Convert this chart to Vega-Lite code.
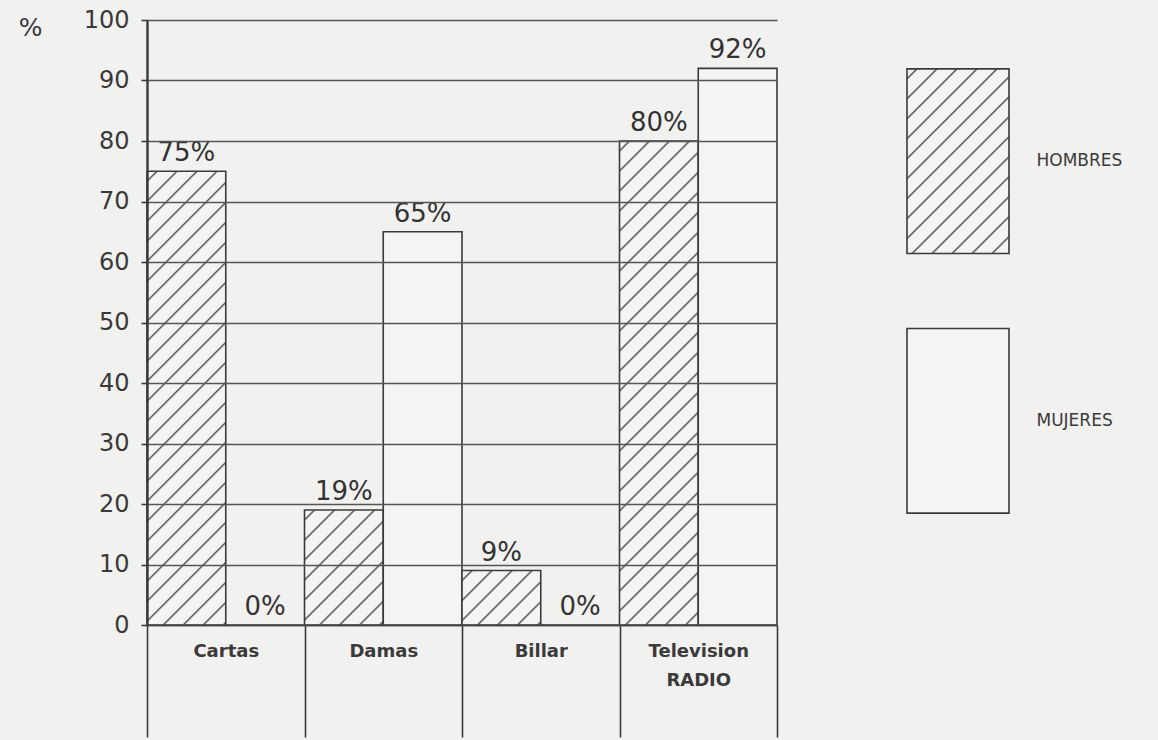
{
  "$schema": "https://vega.github.io/schema/vega-lite/v6.json",
  "background": "#f1f1ef",
  "padding": {"left": 18, "top": 8, "right": 37, "bottom": 2},
  "config": {
    "view": {"stroke": null},
    "font": "DejaVu Sans",
    "concat": {"spacing": 128}
  },
  "datasets": {
    "juegos": [
      {"juego": "Cartas", "sexo": "HOMBRES", "porcentaje": 75, "etiqueta": "75%"},
      {"juego": "Cartas", "sexo": "MUJERES", "porcentaje": 0, "etiqueta": "0%"},
      {"juego": "Damas", "sexo": "HOMBRES", "porcentaje": 19, "etiqueta": "19%"},
      {"juego": "Damas", "sexo": "MUJERES", "porcentaje": 65, "etiqueta": "65%"},
      {"juego": "Billar", "sexo": "HOMBRES", "porcentaje": 9, "etiqueta": "9%"},
      {"juego": "Billar", "sexo": "MUJERES", "porcentaje": 0, "etiqueta": "0%"},
      {"juego": "Television", "sexo": "HOMBRES", "porcentaje": 80, "etiqueta": "80%"},
      {"juego": "Television", "sexo": "MUJERES", "porcentaje": 92, "etiqueta": "92%"}
    ],
    "leyenda": [
      {"sexo": "HOMBRES"},
      {"sexo": "MUJERES"}
    ]
  },
  "hconcat": [
    {
      "width": 630,
      "height": 605,
      "data": {"name": "juegos"},
      "encoding": {
        "x": {
          "field": "juego", "type": "nominal",
          "sort": ["Cartas", "Damas", "Billar", "Television"],
          "scale": {"paddingInner": 0, "paddingOuter": 0},
          "axis": {
            "title": null,
            "labelAngle": 0,
            "domain": true, "domainColor": "#444", "domainWidth": 1.6,
            "ticks": true, "tickSize": 112, "tickColor": "#3a3a3a", "tickWidth": 1.6, "tickBand": "extent",
            "bandPosition": 1,
            "labelPadding": -95,
            "labelBaseline": "top",
            "labelFontSize": 18, "labelFontWeight": "bold", "labelColor": "#3a3a3a",
            "labelLineHeight": 29,
            "labelExpr": "datum.value == 'Television' ? ['Television', 'RADIO'] : datum.value",
            "zindex": 1
          }
        },
        "xOffset": {
          "field": "sexo", "type": "nominal",
          "sort": ["HOMBRES", "MUJERES"],
          "scale": {"paddingInner": 0, "paddingOuter": 0}
        },
        "y": {
          "field": "porcentaje", "type": "quantitative",
          "scale": {"domain": [0, 100], "nice": false},
          "axis": {
            "values": [0, 10, 20, 30, 40, 50, 60, 70, 80, 90, 100],
            "title": "%",
            "titleAngle": 0, "titleX": -117, "titleY": 7,
            "titleAlign": "center", "titleBaseline": "middle",
            "titleFontSize": 25, "titleFontWeight": "normal", "titleColor": "#3a3a3a",
            "domain": true, "domainColor": "#3a3a3a", "domainWidth": 2.4,
            "ticks": true, "tickSize": 6, "tickColor": "#3a3a3a", "tickWidth": 1.6,
            "grid": true, "gridColor": "#555", "gridWidth": 1.4, "gridOpacity": 1,
            "labelPadding": 12, "labelFontSize": 24, "labelColor": "#3a3a3a",
            "zindex": 1
          }
        }
      },
      "layer": [
        {
          "mark": {"type": "bar", "stroke": "#3a3a3a", "strokeWidth": 1.6},
          "encoding": {
            "fill": {
              "condition": [
                {"test": "datum.juego === 'Cartas' && datum.sexo === 'HOMBRES'",
                 "value": {"gradient": "linear", "x1": 0, "y1": 0, "x2": 0.3713035, "y2": 2.139416, "stops": [
{"offset":0.008,"color":"#f4f4f2"},{"offset":0.010,"color":"#4a4a4a"},{"offset":0.012,"color":"#f4f4f2"},
{"offset":0.028,"color":"#f4f4f2"},{"offset":0.030,"color":"#4a4a4a"},{"offset":0.032,"color":"#f4f4f2"},
{"offset":0.048,"color":"#f4f4f2"},{"offset":0.050,"color":"#4a4a4a"},{"offset":0.052,"color":"#f4f4f2"},
{"offset":0.068,"color":"#f4f4f2"},{"offset":0.070,"color":"#4a4a4a"},{"offset":0.072,"color":"#f4f4f2"},
{"offset":0.088,"color":"#f4f4f2"},{"offset":0.090,"color":"#4a4a4a"},{"offset":0.092,"color":"#f4f4f2"},
{"offset":0.108,"color":"#f4f4f2"},{"offset":0.110,"color":"#4a4a4a"},{"offset":0.112,"color":"#f4f4f2"},
{"offset":0.128,"color":"#f4f4f2"},{"offset":0.130,"color":"#4a4a4a"},{"offset":0.132,"color":"#f4f4f2"},
{"offset":0.148,"color":"#f4f4f2"},{"offset":0.150,"color":"#4a4a4a"},{"offset":0.152,"color":"#f4f4f2"},
{"offset":0.168,"color":"#f4f4f2"},{"offset":0.170,"color":"#4a4a4a"},{"offset":0.172,"color":"#f4f4f2"},
{"offset":0.188,"color":"#f4f4f2"},{"offset":0.190,"color":"#4a4a4a"},{"offset":0.192,"color":"#f4f4f2"},
{"offset":0.208,"color":"#f4f4f2"},{"offset":0.210,"color":"#4a4a4a"},{"offset":0.212,"color":"#f4f4f2"},
{"offset":0.228,"color":"#f4f4f2"},{"offset":0.230,"color":"#4a4a4a"},{"offset":0.232,"color":"#f4f4f2"},
{"offset":0.248,"color":"#f4f4f2"},{"offset":0.250,"color":"#4a4a4a"},{"offset":0.252,"color":"#f4f4f2"},
{"offset":0.268,"color":"#f4f4f2"},{"offset":0.270,"color":"#4a4a4a"},{"offset":0.272,"color":"#f4f4f2"},
{"offset":0.288,"color":"#f4f4f2"},{"offset":0.290,"color":"#4a4a4a"},{"offset":0.292,"color":"#f4f4f2"},
{"offset":0.308,"color":"#f4f4f2"},{"offset":0.310,"color":"#4a4a4a"},{"offset":0.312,"color":"#f4f4f2"},
{"offset":0.328,"color":"#f4f4f2"},{"offset":0.330,"color":"#4a4a4a"},{"offset":0.332,"color":"#f4f4f2"},
{"offset":0.348,"color":"#f4f4f2"},{"offset":0.350,"color":"#4a4a4a"},{"offset":0.352,"color":"#f4f4f2"},
{"offset":0.368,"color":"#f4f4f2"},{"offset":0.370,"color":"#4a4a4a"},{"offset":0.372,"color":"#f4f4f2"},
{"offset":0.388,"color":"#f4f4f2"},{"offset":0.390,"color":"#4a4a4a"},{"offset":0.392,"color":"#f4f4f2"},
{"offset":0.408,"color":"#f4f4f2"},{"offset":0.410,"color":"#4a4a4a"},{"offset":0.412,"color":"#f4f4f2"},
{"offset":0.428,"color":"#f4f4f2"},{"offset":0.430,"color":"#4a4a4a"},{"offset":0.432,"color":"#f4f4f2"},
{"offset":0.448,"color":"#f4f4f2"},{"offset":0.450,"color":"#4a4a4a"},{"offset":0.452,"color":"#f4f4f2"},
{"offset":0.468,"color":"#f4f4f2"},{"offset":0.470,"color":"#4a4a4a"},{"offset":0.472,"color":"#f4f4f2"},
{"offset":0.488,"color":"#f4f4f2"},{"offset":0.490,"color":"#4a4a4a"},{"offset":0.492,"color":"#f4f4f2"},
{"offset":0.508,"color":"#f4f4f2"},{"offset":0.510,"color":"#4a4a4a"},{"offset":0.512,"color":"#f4f4f2"},
{"offset":0.528,"color":"#f4f4f2"},{"offset":0.530,"color":"#4a4a4a"},{"offset":0.532,"color":"#f4f4f2"},
{"offset":0.548,"color":"#f4f4f2"},{"offset":0.550,"color":"#4a4a4a"},{"offset":0.552,"color":"#f4f4f2"},
{"offset":0.568,"color":"#f4f4f2"},{"offset":0.570,"color":"#4a4a4a"},{"offset":0.572,"color":"#f4f4f2"}
                 ]}},
                {"test": "datum.juego === 'Damas' && datum.sexo === 'HOMBRES'",
                 "value": {"gradient": "linear", "x1": 0, "y1": 0, "x2": 4.056129, "y2": 5.92066, "stops": [
{"offset":0.008,"color":"#f4f4f2"},{"offset":0.010,"color":"#4a4a4a"},{"offset":0.012,"color":"#f4f4f2"},
{"offset":0.028,"color":"#f4f4f2"},{"offset":0.030,"color":"#4a4a4a"},{"offset":0.032,"color":"#f4f4f2"},
{"offset":0.048,"color":"#f4f4f2"},{"offset":0.050,"color":"#4a4a4a"},{"offset":0.052,"color":"#f4f4f2"},
{"offset":0.068,"color":"#f4f4f2"},{"offset":0.070,"color":"#4a4a4a"},{"offset":0.072,"color":"#f4f4f2"},
{"offset":0.088,"color":"#f4f4f2"},{"offset":0.090,"color":"#4a4a4a"},{"offset":0.092,"color":"#f4f4f2"},
{"offset":0.108,"color":"#f4f4f2"},{"offset":0.110,"color":"#4a4a4a"},{"offset":0.112,"color":"#f4f4f2"},
{"offset":0.128,"color":"#f4f4f2"},{"offset":0.130,"color":"#4a4a4a"},{"offset":0.132,"color":"#f4f4f2"},
{"offset":0.148,"color":"#f4f4f2"},{"offset":0.150,"color":"#4a4a4a"},{"offset":0.152,"color":"#f4f4f2"},
{"offset":0.168,"color":"#f4f4f2"},{"offset":0.170,"color":"#4a4a4a"},{"offset":0.172,"color":"#f4f4f2"},
{"offset":0.188,"color":"#f4f4f2"},{"offset":0.190,"color":"#4a4a4a"},{"offset":0.192,"color":"#f4f4f2"}
                 ]}},
                {"test": "datum.juego === 'Billar' && datum.sexo === 'HOMBRES'",
                 "value": {"gradient": "linear", "x1": 0, "y1": 0, "x2": 8.59119, "y2": 5.940196, "stops": [
{"offset":0.008,"color":"#f4f4f2"},{"offset":0.010,"color":"#4a4a4a"},{"offset":0.012,"color":"#f4f4f2"},
{"offset":0.028,"color":"#f4f4f2"},{"offset":0.030,"color":"#4a4a4a"},{"offset":0.032,"color":"#f4f4f2"},
{"offset":0.048,"color":"#f4f4f2"},{"offset":0.050,"color":"#4a4a4a"},{"offset":0.052,"color":"#f4f4f2"},
{"offset":0.068,"color":"#f4f4f2"},{"offset":0.070,"color":"#4a4a4a"},{"offset":0.072,"color":"#f4f4f2"},
{"offset":0.088,"color":"#f4f4f2"},{"offset":0.090,"color":"#4a4a4a"},{"offset":0.092,"color":"#f4f4f2"},
{"offset":0.108,"color":"#f4f4f2"},{"offset":0.110,"color":"#4a4a4a"},{"offset":0.112,"color":"#f4f4f2"},
{"offset":0.128,"color":"#f4f4f2"},{"offset":0.130,"color":"#4a4a4a"},{"offset":0.132,"color":"#f4f4f2"}
                 ]}},
                {"test": "datum.juego === 'Television' && datum.sexo === 'HOMBRES'",
                 "value": {"gradient": "linear", "x1": 0, "y1": 0, "x2": 0.3275006, "y2": 2.012829, "stops": [
{"offset":0.008,"color":"#f4f4f2"},{"offset":0.010,"color":"#4a4a4a"},{"offset":0.012,"color":"#f4f4f2"},
{"offset":0.028,"color":"#f4f4f2"},{"offset":0.030,"color":"#4a4a4a"},{"offset":0.032,"color":"#f4f4f2"},
{"offset":0.048,"color":"#f4f4f2"},{"offset":0.050,"color":"#4a4a4a"},{"offset":0.052,"color":"#f4f4f2"},
{"offset":0.068,"color":"#f4f4f2"},{"offset":0.070,"color":"#4a4a4a"},{"offset":0.072,"color":"#f4f4f2"},
{"offset":0.088,"color":"#f4f4f2"},{"offset":0.090,"color":"#4a4a4a"},{"offset":0.092,"color":"#f4f4f2"},
{"offset":0.108,"color":"#f4f4f2"},{"offset":0.110,"color":"#4a4a4a"},{"offset":0.112,"color":"#f4f4f2"},
{"offset":0.128,"color":"#f4f4f2"},{"offset":0.130,"color":"#4a4a4a"},{"offset":0.132,"color":"#f4f4f2"},
{"offset":0.148,"color":"#f4f4f2"},{"offset":0.150,"color":"#4a4a4a"},{"offset":0.152,"color":"#f4f4f2"},
{"offset":0.168,"color":"#f4f4f2"},{"offset":0.170,"color":"#4a4a4a"},{"offset":0.172,"color":"#f4f4f2"},
{"offset":0.188,"color":"#f4f4f2"},{"offset":0.190,"color":"#4a4a4a"},{"offset":0.192,"color":"#f4f4f2"},
{"offset":0.208,"color":"#f4f4f2"},{"offset":0.210,"color":"#4a4a4a"},{"offset":0.212,"color":"#f4f4f2"},
{"offset":0.228,"color":"#f4f4f2"},{"offset":0.230,"color":"#4a4a4a"},{"offset":0.232,"color":"#f4f4f2"},
{"offset":0.248,"color":"#f4f4f2"},{"offset":0.250,"color":"#4a4a4a"},{"offset":0.252,"color":"#f4f4f2"},
{"offset":0.268,"color":"#f4f4f2"},{"offset":0.270,"color":"#4a4a4a"},{"offset":0.272,"color":"#f4f4f2"},
{"offset":0.288,"color":"#f4f4f2"},{"offset":0.290,"color":"#4a4a4a"},{"offset":0.292,"color":"#f4f4f2"},
{"offset":0.308,"color":"#f4f4f2"},{"offset":0.310,"color":"#4a4a4a"},{"offset":0.312,"color":"#f4f4f2"},
{"offset":0.328,"color":"#f4f4f2"},{"offset":0.330,"color":"#4a4a4a"},{"offset":0.332,"color":"#f4f4f2"},
{"offset":0.348,"color":"#f4f4f2"},{"offset":0.350,"color":"#4a4a4a"},{"offset":0.352,"color":"#f4f4f2"},
{"offset":0.368,"color":"#f4f4f2"},{"offset":0.370,"color":"#4a4a4a"},{"offset":0.372,"color":"#f4f4f2"},
{"offset":0.388,"color":"#f4f4f2"},{"offset":0.390,"color":"#4a4a4a"},{"offset":0.392,"color":"#f4f4f2"},
{"offset":0.408,"color":"#f4f4f2"},{"offset":0.410,"color":"#4a4a4a"},{"offset":0.412,"color":"#f4f4f2"},
{"offset":0.428,"color":"#f4f4f2"},{"offset":0.430,"color":"#4a4a4a"},{"offset":0.432,"color":"#f4f4f2"},
{"offset":0.448,"color":"#f4f4f2"},{"offset":0.450,"color":"#4a4a4a"},{"offset":0.452,"color":"#f4f4f2"},
{"offset":0.468,"color":"#f4f4f2"},{"offset":0.470,"color":"#4a4a4a"},{"offset":0.472,"color":"#f4f4f2"},
{"offset":0.488,"color":"#f4f4f2"},{"offset":0.490,"color":"#4a4a4a"},{"offset":0.492,"color":"#f4f4f2"},
{"offset":0.508,"color":"#f4f4f2"},{"offset":0.510,"color":"#4a4a4a"},{"offset":0.512,"color":"#f4f4f2"},
{"offset":0.528,"color":"#f4f4f2"},{"offset":0.530,"color":"#4a4a4a"},{"offset":0.532,"color":"#f4f4f2"},
{"offset":0.548,"color":"#f4f4f2"},{"offset":0.550,"color":"#4a4a4a"},{"offset":0.552,"color":"#f4f4f2"},
{"offset":0.568,"color":"#f4f4f2"},{"offset":0.570,"color":"#4a4a4a"},{"offset":0.572,"color":"#f4f4f2"}
                 ]}}
              ],
              "value": "#f4f4f2"
            }
          }
        },
        {
          "mark": {"type": "text", "baseline": "bottom", "dy": -5, "fontSize": 26, "fill": "#333"},
          "encoding": {"text": {"field": "etiqueta", "type": "nominal"}}
        }
      ]
    },
    {
      "width": 102,
      "height": 605,
      "data": {"name": "leyenda"},
      "mark": {"type": "rect", "stroke": "#3a3a3a", "strokeWidth": 1.6},
      "encoding": {
        "y": {
          "field": "sexo", "type": "nominal",
          "sort": ["HOMBRES", "MUJERES"],
          "scale": {"paddingInner": 0.28846, "paddingOuter": 0.30962, "align": 0.304},
          "axis": {
            "orient": "right", "title": null, "domain": false, "ticks": false, "grid": false,
            "labelPadding": 27, "labelFontSize": 17, "labelColor": "#3a3a3a"
          }
        },
        "fill": {
          "condition": {"test": "datum.sexo === 'HOMBRES'",
            "value": {"gradient": "linear", "x1": 0, "y1": 0, "x2": 2.28551, "y2": 4.145287, "stops": [
{"offset":0.008,"color":"#f4f4f2"},{"offset":0.010,"color":"#4a4a4a"},{"offset":0.012,"color":"#f4f4f2"},
{"offset":0.028,"color":"#f4f4f2"},{"offset":0.030,"color":"#4a4a4a"},{"offset":0.032,"color":"#f4f4f2"},
{"offset":0.048,"color":"#f4f4f2"},{"offset":0.050,"color":"#4a4a4a"},{"offset":0.052,"color":"#f4f4f2"},
{"offset":0.068,"color":"#f4f4f2"},{"offset":0.070,"color":"#4a4a4a"},{"offset":0.072,"color":"#f4f4f2"},
{"offset":0.088,"color":"#f4f4f2"},{"offset":0.090,"color":"#4a4a4a"},{"offset":0.092,"color":"#f4f4f2"},
{"offset":0.108,"color":"#f4f4f2"},{"offset":0.110,"color":"#4a4a4a"},{"offset":0.112,"color":"#f4f4f2"},
{"offset":0.128,"color":"#f4f4f2"},{"offset":0.130,"color":"#4a4a4a"},{"offset":0.132,"color":"#f4f4f2"},
{"offset":0.148,"color":"#f4f4f2"},{"offset":0.150,"color":"#4a4a4a"},{"offset":0.152,"color":"#f4f4f2"},
{"offset":0.168,"color":"#f4f4f2"},{"offset":0.170,"color":"#4a4a4a"},{"offset":0.172,"color":"#f4f4f2"},
{"offset":0.188,"color":"#f4f4f2"},{"offset":0.190,"color":"#4a4a4a"},{"offset":0.192,"color":"#f4f4f2"},
{"offset":0.208,"color":"#f4f4f2"},{"offset":0.210,"color":"#4a4a4a"},{"offset":0.212,"color":"#f4f4f2"},
{"offset":0.228,"color":"#f4f4f2"},{"offset":0.230,"color":"#4a4a4a"},{"offset":0.232,"color":"#f4f4f2"},
{"offset":0.248,"color":"#f4f4f2"},{"offset":0.250,"color":"#4a4a4a"},{"offset":0.252,"color":"#f4f4f2"},
{"offset":0.268,"color":"#f4f4f2"},{"offset":0.270,"color":"#4a4a4a"},{"offset":0.272,"color":"#f4f4f2"},
{"offset":0.288,"color":"#f4f4f2"},{"offset":0.290,"color":"#4a4a4a"},{"offset":0.292,"color":"#f4f4f2"}
            ]}},
          "value": "#f4f4f2"
        }
      }
    }
  ]
}
